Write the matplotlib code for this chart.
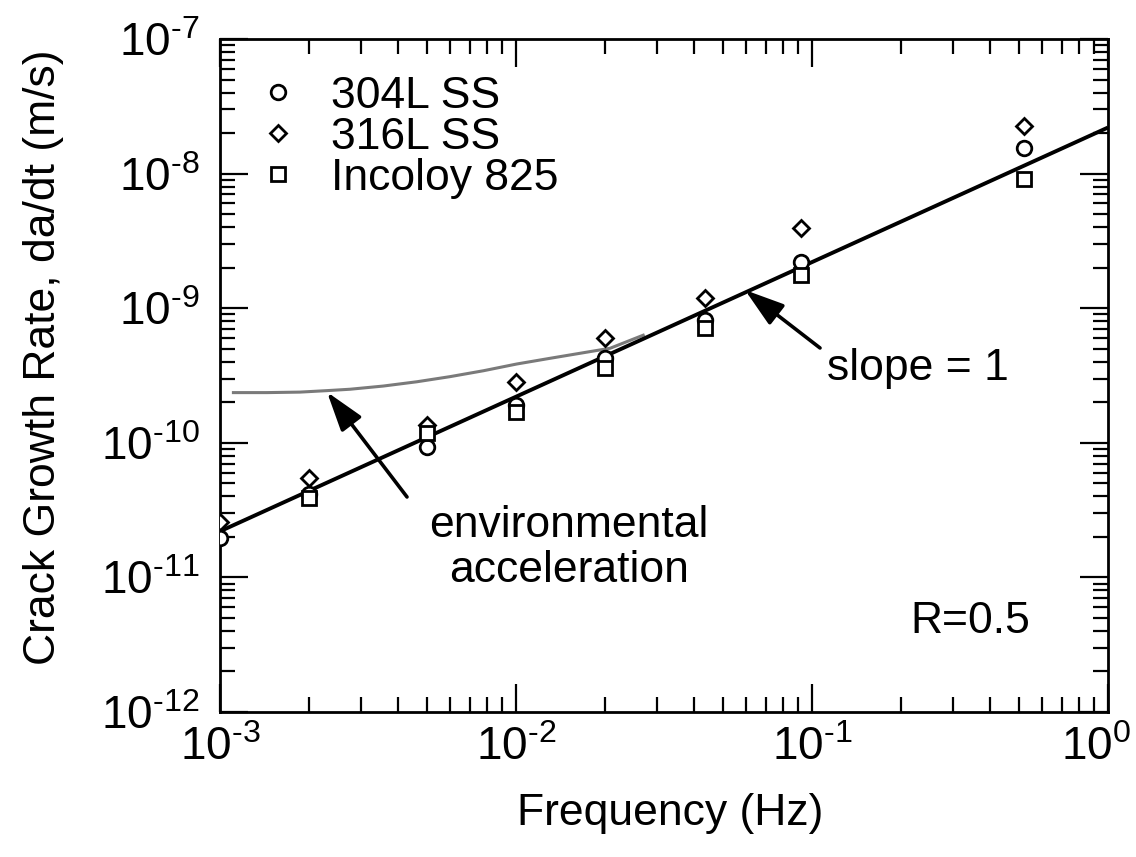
import matplotlib
matplotlib.use("Agg")
import matplotlib.pyplot as plt
from matplotlib.ticker import LogLocator, NullFormatter
from matplotlib.transforms import ScaledTranslation

plt.rcParams['font.family'] = ['Liberation Sans', 'DejaVu Sans']
plt.rcParams['mathtext.fontset'] = 'custom'
plt.rcParams['mathtext.rm'] = 'Liberation Sans'
plt.rcParams['mathtext.it'] = 'Liberation Sans:italic'
plt.rcParams['mathtext.default'] = 'regular'
plt.rcParams['axes.unicode_minus'] = False

# ---- data ----
freq = [1e-3, 2e-3, 5e-3, 1e-2, 2e-2, 4.35e-2, 9.2e-2, 0.52]
rate_304L = [1.96e-11, 4.2e-11, 9.35e-11, 1.9e-10, 4.3e-10, 8.2e-10, 2.2e-9, 1.56e-8]
rate_316L = [2.6e-11, 5.5e-11, 1.36e-10, 2.84e-10, 6.0e-10, 1.19e-9, 3.94e-9, 2.26e-8]
freq_inc = [2e-3, 5e-3, 1e-2, 2e-2, 4.35e-2, 9.2e-2, 0.52]
rate_inc = [3.9e-11, 1.18e-10, 1.7e-10, 3.6e-10, 7.1e-10, 1.77e-9, 9.1e-9]

fit_freq = [1e-3, 1.0]
fit_rate = [2.2e-11, 2.2e-8]

env_freq = [1.11e-3, 1.44e-3, 1.86e-3, 2.29e-3, 2.75e-3, 3.56e-3, 4.62e-3,
            5.98e-3, 7.76e-3, 1.006e-2, 1.30e-2, 1.69e-2, 2.08e-2, 2.69e-2]
env_rate = [2.36e-10, 2.36e-10, 2.38e-10, 2.44e-10, 2.50e-10, 2.64e-10, 2.84e-10,
            3.10e-10, 3.43e-10, 3.85e-10, 4.24e-10, 4.67e-10, 5.04e-10, 6.3e-10]

labels = ['304L SS', '316L SS', 'Incoloy 825']
x_exps = [-3, -2, -1, 0]
y_exps = [-12, -11, -10, -9, -8, -7]


def pow_label(e):
    if e < 0:
        return r'$10^{\text{-%d}}$' % (-e)
    return r'$10^{%d}$' % e


# ---- figure ----
fig = plt.figure(figsize=(11.36, 8.57), dpi=100)
ax = fig.add_axes([220/1136, 1-712/857, 888/1136, 673/857])
ax.set_xscale('log')
ax.set_yscale('log')
ax.set_xlim(10.0**x_exps[0], 10.0**x_exps[-1])
ax.set_ylim(10.0**y_exps[0], 10.0**y_exps[-1])

ax.plot(env_freq, env_rate, color='#7a7a7a', lw=2.2, zorder=2)
ax.plot(fit_freq, fit_rate, color='black', lw=2.8, zorder=3, solid_capstyle='butt')

mk = dict(linestyle='none', mfc='white', mec='black', mew=2.0, zorder=4)
ax.plot(freq, rate_304L, marker='o', ms=10.5, label=labels[0], **mk)
ax.plot(freq, rate_316L, marker='D', ms=8.5, label=labels[1], **mk)
ax.plot(freq_inc, rate_inc, marker='s', ms=10.5, label=labels[2], **mk)

ax.legend(loc='upper left', bbox_to_anchor=(0.0253, 0.972), frameon=False,
          fontsize=32, handlelength=0.8, handletextpad=0.8, labelspacing=0.0,
          borderaxespad=0.0)

# ticks
ax.set_xticks([10.0**e for e in x_exps])
ax.set_xticklabels([pow_label(e) for e in x_exps])
ax.set_yticks([10.0**e for e in y_exps])
ax.set_yticklabels([pow_label(e) for e in y_exps])
ax.xaxis.set_minor_locator(LogLocator(base=10, subs=range(2, 10), numticks=20))
ax.yaxis.set_minor_locator(LogLocator(base=10, subs=range(2, 10), numticks=20))
ax.xaxis.set_minor_formatter(NullFormatter())
ax.yaxis.set_minor_formatter(NullFormatter())
ax.tick_params(which='both', direction='in', top=True, right=True, width=1.6,
               colors='black')
ax.tick_params(which='major', length=20, labelsize=33)
ax.tick_params(axis='x', which='major', pad=10)
ax.tick_params(axis='y', which='major', pad=15)
ax.tick_params(which='minor', length=11)
for s in ax.spines.values():
    s.set_linewidth(2.0)

# shift the last x tick label left so it stays inside the figure
last = ax.get_xticklabels()[-1]
last.set_transform(last.get_transform() + ScaledTranslation(-12/100, 0, fig.dpi_scale_trans))

ax.set_xlabel('Frequency (Hz)', fontsize=32)
ax.xaxis.set_label_coords(0.5068, -0.1204)
ax.set_ylabel('Crack Growth Rate, da/dt (m/s)', fontsize=32)
ax.yaxis.set_label_coords(-0.1757, 0.527)

# annotations
arrow = dict(arrowstyle='-|>,head_length=1.1,head_width=0.35', lw=2.6,
             color='black', shrinkA=0, shrinkB=0, mutation_scale=22)
ax.annotate('', xy=(0.1205, 0.4755), xytext=(0.2106, 0.3195),
            xycoords='axes fraction', textcoords='axes fraction', arrowprops=arrow)
ax.annotate('', xy=(0.5912, 0.627), xytext=(0.6757, 0.5409),
            xycoords='axes fraction', textcoords='axes fraction', arrowprops=arrow)

ax.text(0.393, 0.260, 'environmental', transform=ax.transAxes, fontsize=32,
        ha='center', va='baseline')
ax.text(0.393, 0.193, 'acceleration', transform=ax.transAxes, fontsize=32,
        ha='center', va='baseline')
ax.text(0.6836, 0.4933, 'slope = 1', transform=ax.transAxes, fontsize=32,
        ha='left', va='baseline')
ax.text(0.777, 0.1174, 'R=0.5', transform=ax.transAxes, fontsize=32,
        ha='left', va='baseline')

fig.savefig('out.png', dpi=100)
